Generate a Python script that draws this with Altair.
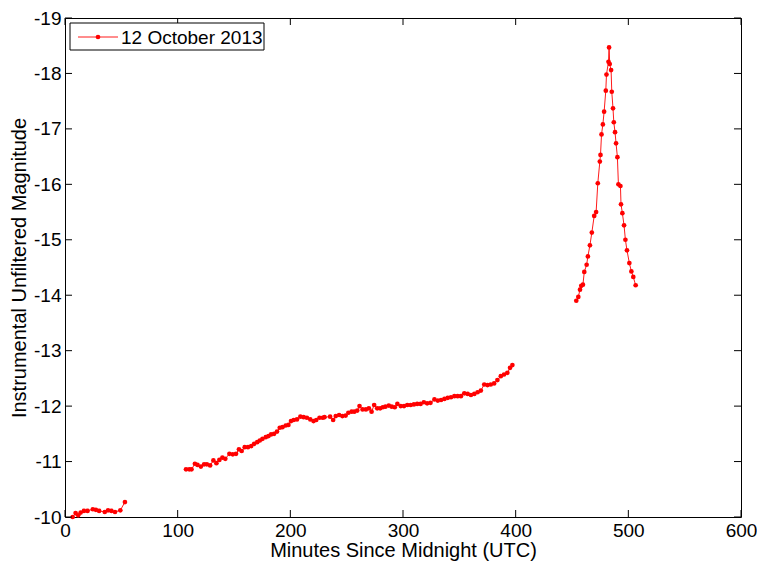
import altair as alt
import pandas as pd

# ---- data ----
seg1_t = [6.8, 9.4, 11.7, 13.9, 16.8, 20.0, 24.7, 27.4, 30.3, 35.3, 38.2, 41.2, 44.4, 49.1, 53.2]
seg1_m = [-10.0, -10.07, -10.03, -10.08, -10.11, -10.11, -10.14, -10.13, -10.11, -10.09, -10.12, -10.11, -10.09, -10.12, -10.27]

seg2_t = [107.4, 110.3, 112.3, 115.3, 117.6, 120.6, 123.5, 125.9, 128.8, 131.7, 134.4, 137.0, 139.7, 142.3,
          145.9, 148.9, 151.8, 154.4, 156.8, 159.5, 162.4, 165.3, 167.9, 170.6, 172.9, 175.3, 178.2, 180.6,
          182.9, 185.6, 188.2, 190.6, 193.0, 195.9, 198.3, 200.6, 203.0, 205.9, 208.9, 211.8, 214.7, 217.7,
          220.6, 223.0, 225.9, 228.8, 230.3, 235.3, 238.0, 240.3, 243.3, 246.2, 249.1, 251.5, 254.4, 256.8,
          259.4, 261.4, 264.1, 267.1, 269.7, 272.1, 274.4, 277.1, 279.7, 282.1, 284.4, 287.4, 290.0, 292.7,
          295.0, 298.0, 300.9, 303.8, 306.8, 309.7, 312.6, 315.6, 318.5, 321.4, 324.4, 327.9, 330.9, 333.8,
          336.8, 339.7, 342.6, 345.6, 348.5, 351.4, 354.4, 357.4, 360.3, 363.3, 366.2, 369.1, 372.1, 375.0,
          377.9, 380.9, 383.8, 386.8, 389.7, 392.6, 395.0, 397.1]
seg2_m = [-10.86, -10.86, -10.86, -10.96, -10.94, -10.91, -10.95, -10.95, -10.93, -11.02, -10.97, -11.03, -11.07, -11.05,
          -11.14, -11.13, -11.14, -11.22, -11.19, -11.26, -11.26, -11.28, -11.32, -11.35, -11.38, -11.41, -11.44, -11.46,
          -11.49, -11.50, -11.54, -11.61, -11.62, -11.65, -11.66, -11.73, -11.75, -11.76, -11.81, -11.80, -11.79, -11.76,
          -11.73, -11.75, -11.79, -11.79, -11.80, -11.81, -11.75, -11.82, -11.84, -11.82, -11.83, -11.88, -11.90, -11.90,
          -11.92, -12.00, -11.94, -11.94, -11.96, -11.90, -12.02, -11.96, -11.96, -11.98, -11.99, -12.01, -11.99, -11.98,
          -12.04, -12.00, -12.00, -12.02, -12.02, -12.03, -12.04, -12.04, -12.07, -12.05, -12.06, -12.12, -12.10, -12.11,
          -12.13, -12.15, -12.16, -12.18, -12.18, -12.18, -12.23, -12.22, -12.20, -12.22, -12.25, -12.28, -12.39, -12.38,
          -12.39, -12.41, -12.47, -12.54, -12.57, -12.60, -12.69, -12.74]

seg3_t = [453.8, 455.6, 457.1, 458.2, 459.7, 460.9, 463.0, 464.1, 465.9, 467.6, 469.7, 471.4, 472.9, 474.7,
          475.3, 476.2, 477.4, 478.5, 480.0, 480.6, 482.4, 482.9, 483.5, 484.7, 485.3, 486.4, 487.1, 488.2,
          489.1, 490.3, 491.2, 493.0, 493.5, 494.7, 496.2, 497.4, 498.8, 500.9, 502.7, 504.4, 506.5]
seg3_m = [-13.90, -13.97, -14.10, -14.17, -14.19, -14.42, -14.55, -14.70, -14.90, -15.13, -15.43, -15.50, -16.02, -16.41,
          -16.53, -16.90, -17.08, -17.31, -17.69, -17.98, -18.21, -18.47, -18.17, -18.06, -17.67, -17.37, -17.12, -16.94,
          -16.74, -16.49, -16.00, -15.97, -15.64, -15.48, -15.26, -15.00, -14.81, -14.58, -14.43, -14.33, -14.18]

x_ticks = [0, 100, 200, 300, 400, 500, 600]
y_ticks = [-19, -18, -17, -16, -15, -14, -13, -12, -11, -10]
legend_label = ["12 October 2013"]

rows = []
for seg, (ts, ms) in enumerate([(seg1_t, seg1_m), (seg2_t, seg2_m), (seg3_t, seg3_m)]):
    for t, m in zip(ts, ms):
        rows.append({"t": t, "m": m, "seg": seg})
df = pd.DataFrame(rows)

W, H = 676, 499
FONT = "Liberation Sans"
RED = "#ff0000"

xscale = alt.Scale(domain=[0, 600], nice=False, zero=False)
yscale = alt.Scale(domain=[-19, -10], nice=False, zero=False, reverse=True)

xaxis = alt.Axis(values=x_ticks, labelExpr="'' + datum.value", ticks=False, domain=False, grid=False,
                 labelPadding=4, labelFontSize=19, labelFont=FONT, labelColor="black",
                 title="Minutes Since Midnight (UTC)", titleFontSize=20, titleFont=FONT,
                 titleFontWeight="normal", titleColor="black", titlePadding=0, labelFlush=False)
yaxis = alt.Axis(values=y_ticks, labelExpr="'' + datum.value", ticks=False, domain=False, grid=False,
                 labelPadding=4, labelFontSize=19, labelFont=FONT, labelColor="black",
                 title="Instrumental Unfiltered Magnitude", titleFontSize=20, titleFont=FONT,
                 titleFontWeight="normal", titleColor="black", titlePadding=4, labelFlush=False)

X = alt.X("t:Q", scale=xscale, axis=xaxis)
Y = alt.Y("m:Q", scale=yscale, axis=yaxis)

base = alt.Chart(df)
line = base.mark_line(color=RED, strokeWidth=0.9).encode(x=X, y=Y, detail="seg:N")
pts = base.mark_circle(color=RED, size=22, opacity=1).encode(x=X, y=Y)

xt = alt.Chart(pd.DataFrame({"t": x_ticks}))
yt = alt.Chart(pd.DataFrame({"m": y_ticks}))
xtick_b = xt.mark_rule(color="black", strokeWidth=1).encode(x=X, y=alt.value(H), y2=alt.value(H - 7))
xtick_t = xt.mark_rule(color="black", strokeWidth=1).encode(x=X, y=alt.value(0), y2=alt.value(7))
ytick_l = yt.mark_rule(color="black", strokeWidth=1).encode(y=Y, x=alt.value(0), x2=alt.value(7))
ytick_r = yt.mark_rule(color="black", strokeWidth=1).encode(y=Y, x=alt.value(W), x2=alt.value(W - 7))

lg = alt.Chart(pd.DataFrame({"label": legend_label}))
lg_box = lg.mark_rect(fill="white", stroke="black", strokeWidth=1).encode(
    x=alt.value(5), x2=alt.value(199), y=alt.value(5), y2=alt.value(32))
lg_line = lg.mark_rule(color=RED, strokeWidth=0.9).encode(
    x=alt.value(13), x2=alt.value(53), y=alt.value(19))
lg_dot = lg.mark_circle(color=RED, size=22, opacity=1).encode(
    x=alt.value(33), y=alt.value(19))
lg_text = lg.mark_text(align="left", baseline="middle", font=FONT, fontSize=19, color="black").encode(
    x=alt.value(56), y=alt.value(19.5), text="label:N")

chart = alt.layer(line, pts, xtick_b, xtick_t, ytick_l, ytick_r, lg_box, lg_line, lg_dot, lg_text).properties(
    width=W, height=H,
    autosize=alt.AutoSizeParams(type="none"),
    padding={"left": 57, "top": 10, "right": 16, "bottom": 45},
    background="white",
).configure_view(stroke="black", strokeWidth=1)

chart.save("out.html", embed_options={"renderer": "svg", "actions": False})
